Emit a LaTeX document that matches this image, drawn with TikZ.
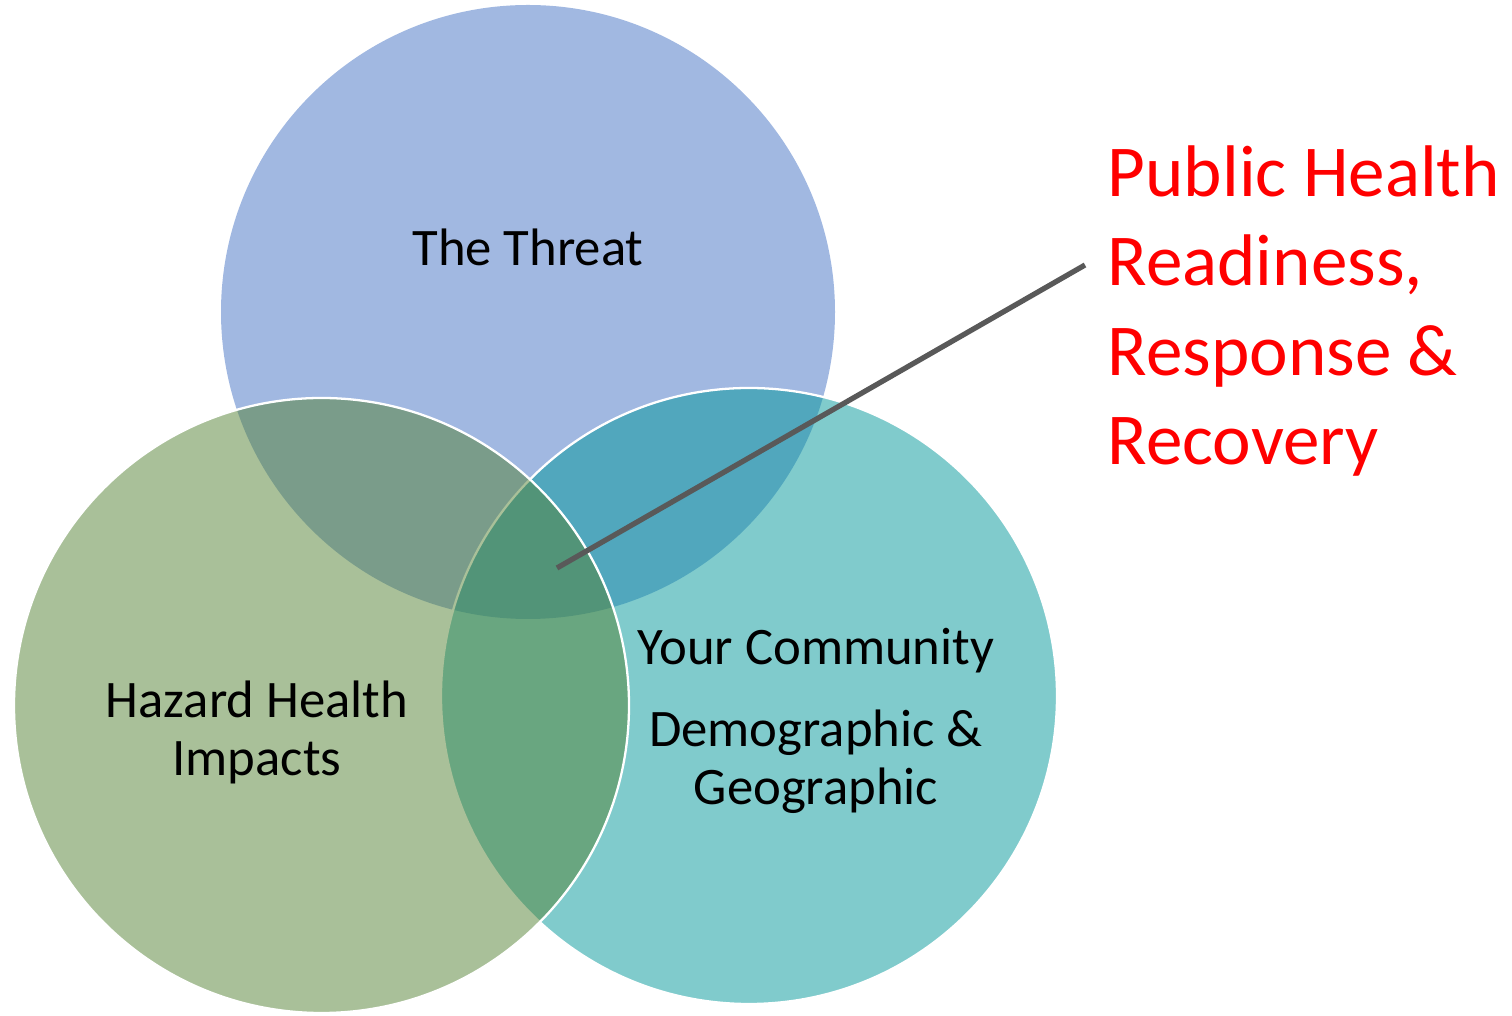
\documentclass[tikz,border=0pt]{standalone}
\usepackage{fontspec}
\setmainfont{Carlito}
\usetikzlibrary{calc,positioning}
\definecolor{threatblue}{RGB}{68,114,196}
\definecolor{hazardgreen}{RGB}{84,130,52}
\definecolor{commteal}{RGB}{2,151,154}
\definecolor{callgray}{RGB}{89,89,89}
\begin{document}
\begin{tikzpicture}
\tikzstyle{ring}=[fill opacity=.5, draw=white, line width=.65pt]
\tikzstyle{txt}=[inner sep=0pt, align=center, font=\fontsize{15}{16.5}\selectfont]
\useasboundingbox (0,0) rectangle (15.12,10.16);
% the three sets
\fill[threatblue, fill opacity=.5] (5.28,7.04) circle (3.07);
\draw[ring, fill=commteal] (7.49,3.20) circle (3.08);
\draw[ring, fill=hazardgreen] (3.215,3.105) circle (3.075);
\node[txt] (threat) at (5.28,7.69) {The Threat};
\node[txt] (hazard) at (2.57,2.84) {Hazard Health\\Impacts};
\node[txt] (comm) at (8.16,2.95) {Your Community\\[6.7pt]Demographic \&\\Geographic};
% callout
\node[inner sep=0pt, anchor=base west, align=left, text=red,
      font=\fontsize{20.8}{25.5}\selectfont] (phr) at (11.07,5.51)
      {Public Health\\Readiness,\\Response \&\\Recovery};
\coordinate (core) at (5.57,4.48);
\coordinate (tip) at (10.85,7.51);
\draw[callgray, line width=1.5pt] (core) -- (tip);
\end{tikzpicture}
\end{document}
